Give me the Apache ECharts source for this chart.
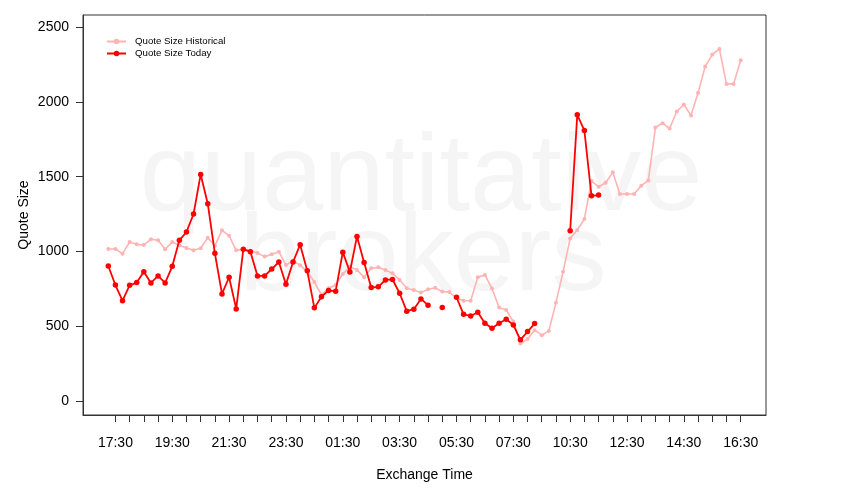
<!DOCTYPE html>
<html>
<head>
<meta charset="utf-8">
<script src="https://cdn.jsdelivr.net/npm/echarts@6/dist/echarts.min.js"></script>
<style>
html,body{margin:0;padding:0;background:#fff;}
#chart{width:850px;height:500px;}
</style>
</head>
<body>
<div id="chart"></div>
<script>
const times = ["17:15","17:30","17:45","18:00","18:15","18:30","18:45","19:00","19:15","19:30",
"19:45","20:00","20:15","20:30","20:45","21:00","21:15","21:30","21:45","22:00",
"22:15","22:30","22:45","23:00","23:15","23:30","23:45","00:00","00:15","00:30",
"00:45","01:00","01:15","01:30","01:45","02:00","02:15","02:30","02:45","03:00",
"03:15","03:30","03:45","04:00","04:15","04:30","04:45","05:00","05:15","05:30",
"05:45","06:00","06:15","06:30","06:45","07:00","07:15","07:30","07:45","08:00",
"08:15","09:30","09:45","10:00","10:15","10:30","10:45","11:00","11:15","11:30",
"11:45","12:00","12:15","12:30","12:45","13:00","13:15","13:30","13:45","14:00",
"14:15","14:30","14:45","15:00","15:15","15:30","15:45","16:00","16:15","16:30"];

const tickLabels = ["17:30","19:30","21:30","23:30","01:30","03:30","05:30","07:30","10:30","12:30","14:30","16:30"];

const historical = [1016,1016,985,1063,1047,1043,1081,1074,1014,1063,
1041,1023,1007,1021,1092,1038,1141,1105,1007,1014,
1005,989,965,980,998,909,936,908,865,795,
709,753,775,849,898,876,827,887,893,876,
853,809,753,742,724,747,757,731,728,688,
670,670,827,842,751,624,608,530,383,414,
473,439,468,657,863,1087,1143,1217,1471,1433,
1459,1529,1384,1384,1384,1439,1475,1829,1858,1823,
1936,1983,1910,2061,2237,2317,2355,2121,2121,2279];

const today = [902,775,670,773,791,864,789,836,789,900,
1074,1130,1250,1515,1319,987,715,827,615,1014,
998,836,836,882,929,780,929,1045,870,622,
697,738,734,995,862,1100,925,758,763,809,
812,720,600,613,682,640,null,625,null,693,
579,568,593,519,486,519,546,508,408,463,
517,null,null,null,null,1138,1914,1809,1372,1377,
null,null,null,null,null,null,null,null,null,null,
null,null,null,null,null,null,null,null,null,null];

const yTicks = [0,500,1000,1500,2000,2500];

const labelIdx = tickLabels.map(t => times.indexOf(t));
const tickIdx = times.map((t,i) => (t.endsWith(':00') || t.endsWith(':30')) ? i : -1).filter(i => i >= 0);

const FONT = 'Liberation Sans, Arial, Helvetica, sans-serif';
const chart = echarts.init(document.getElementById('chart'), null, {renderer:'canvas'});

chart.setOption({
  animation: false,
  backgroundColor: '#ffffff',
  textStyle: {fontFamily: FONT},
  grid: {left: 83, right: 84, top: 15, bottom: 85, show: true, borderColor: '#333', borderWidth: 1, containLabel: false},
  graphic: [
    {type: 'text', z: -10, x: 421, y: 180, silent: true,
     style: {text: 'quantitative', fill: '#f5f5f5', fontSize: 110, fontFamily: FONT, textAlign: 'center', textVerticalAlign: 'middle'}},
    {type: 'text', z: -10, x: 423, y: 260, silent: true,
     style: {text: 'brokers', fill: '#f5f5f5', fontSize: 110, fontFamily: FONT, textAlign: 'center', textVerticalAlign: 'middle'}}
  ],
  legend: {
    orient: 'vertical', left: 106, top: 35.5, padding: 0, itemWidth: 19, itemHeight: 7, itemGap: 0,
    textStyle: {fontSize: 9.7, color: '#000', fontFamily: FONT, lineHeight: 12, padding: [0,0,0,4]},
    data: ['Quote Size Historical', 'Quote Size Today']
  },
  xAxis: {
    type: 'value', min: -3.56, max: 92.56,
    name: 'Exchange Time', nameLocation: 'middle', nameGap: 53, nameMoveOverlap: false,
    nameTextStyle: {fontSize: 14, color: '#000', fontFamily: FONT},
    axisLine: {show: true, onZero: false, lineStyle: {color: '#333', width: 1}},
    axisTick: {show: true, length: 7, lineStyle: {color: '#333', width: 1}, customValues: tickIdx},
    axisLabel: {show: true, fontSize: 14, color: '#000', margin: 21, fontFamily: FONT,
      customValues: labelIdx, formatter: v => times[v] || ''},
    splitLine: {show: false}
  },
  yAxis: {
    type: 'value', min: -95, max: 2582,
    name: 'Quote Size', nameLocation: 'middle', nameGap: 52, nameRotate: 90, nameMoveOverlap: false,
    nameTextStyle: {fontSize: 14, color: '#000', fontFamily: FONT},
    axisLine: {show: true, onZero: false, lineStyle: {color: '#333', width: 1}},
    axisTick: {show: true, length: 7, lineStyle: {color: '#333', width: 1}, customValues: yTicks},
    axisLabel: {show: true, fontSize: 14, color: '#000', margin: 14, fontFamily: FONT, customValues: yTicks,
      formatter: v => String(v)},
    splitLine: {show: false}
  },
  series: [
    {
      name: 'Quote Size Historical', type: 'line', z: 2,
      data: historical.map((v,i) => [i, v]),
      symbol: 'circle', symbolSize: 4, showSymbol: true,
      itemStyle: {color: '#ffb3b3'},
      lineStyle: {color: '#ffb3b3', width: 1.6},
      emphasis: {disabled: true}
    },
    {
      name: 'Quote Size Today', type: 'line', z: 3,
      data: today.map((v,i) => [i, v]),
      symbol: 'circle', symbolSize: 5.5, showSymbol: true, connectNulls: false,
      itemStyle: {color: '#ff0000'},
      lineStyle: {color: '#ff0000', width: 1.8},
      emphasis: {disabled: true}
    }
  ]
});
</script>
</body>
</html>
